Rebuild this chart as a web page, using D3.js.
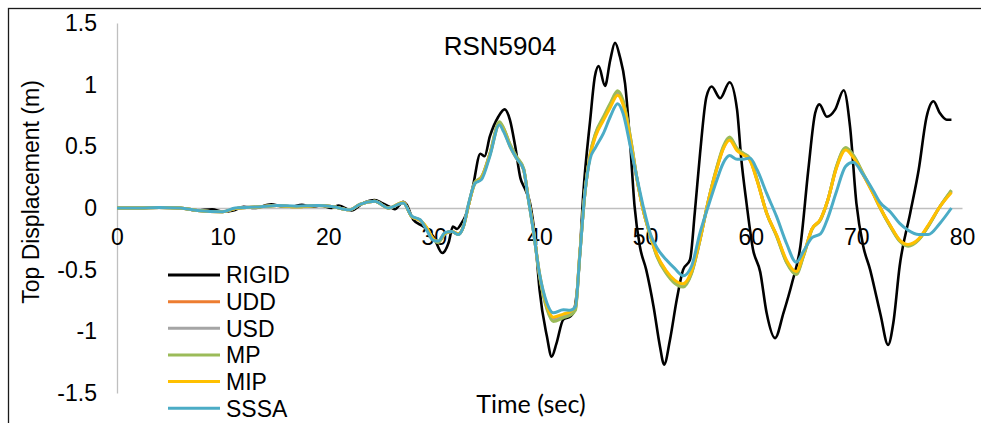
<!DOCTYPE html>
<html>
<head>
<meta charset="utf-8">
<script src="https://cdn.jsdelivr.net/npm/d3@7"></script>
<style>
    body { margin: 0; background: #fff; }
    svg text { font-family: "Liberation Sans", Arial, sans-serif; fill: #000; }
</style>
</head>
<body>
<svg id="chart" width="981" height="423"></svg>
<script>
// Time axis for the RIGID trace (sec)
const timeRigid = [0, 2, 4, 6, 7.6, 9, 10, 11, 12, 13, 14.6, 15.5, 16.5, 17.5, 18.4, 19.3, 20.3, 21, 22.2, 23.3,
    24.4, 25.1, 25.8, 26.3, 27.1, 27.4, 28.05, 29.0, 29.95, 30.8, 31.4, 31.8, 32.2, 32.5, 33.1, 33.7, 34.4, 34.8, 35.3, 36.1,
    36.7, 37.2, 37.7, 38.2, 38.6, 39.1, 39.6, 40.0, 40.7, 41.15, 41.6, 42.25, 42.9, 43.2, 43.7, 44.15, 44.8, 45.25, 45.6, 46.2,
    46.7, 47.15, 47.6, 48.1, 48.6, 49.0, 49.5, 50.1, 50.8, 51.4, 51.8, 52.35, 53.0, 53.6, 54.25, 54.7, 55.2, 55.8, 56.3, 57.1,
    58.0, 58.7, 59.1, 59.6, 60.2, 60.9, 61.5, 62.3, 63.1, 63.9, 64.7, 65.45, 66.1, 66.5, 67.2, 68.0, 68.8, 69.4, 70.0, 70.65,
    71.3, 71.9, 72.3, 73.0, 73.5, 74.1, 75.1, 75.9, 76.65, 77.3, 77.9, 78.55, 79.0];

const rigid = [0, 0, 0.005, 0, -0.02, -0.01, -0.03, -0.02, 0.01, 0, 0.03, 0.015, 0.01, 0.025, 0.01, 0.02, 0, 0.02, -0.02, 0.04,
    0.065, 0.04, 0.01, -0.01, 0.05, 0.03, -0.095, -0.15, -0.23, -0.365, -0.28, -0.15, -0.17, -0.14, -0.04, 0.175, 0.44, 0.42, 0.58, 0.74,
    0.80, 0.715, 0.50, 0.24, 0.16, 0.04, -0.26, -0.66, -1.04, -1.205, -1.10, -0.905, -0.88, -0.85, -0.53, 0.12, 0.715, 1.07, 1.15, 0.99,
    1.2, 1.34, 1.23, 1.01, 0.50, 0.015, -0.31, -0.50, -0.80, -1.12, -1.27, -1.07, -0.74, -0.50, -0.42, -0.04, 0.44, 0.90, 0.985, 0.89,
    1.02, 0.80, 0.40, 0.04, -0.33, -0.52, -0.85, -1.055, -0.85, -0.61, -0.31, 0.31, 0.77, 0.84, 0.74, 0.80, 0.955, 0.66, 0.04, -0.31,
    -0.50, -0.72, -0.87, -1.11, -0.93, -0.47, -0.04, 0.31, 0.74, 0.865, 0.77, 0.715, 0.715];

// Time axis shared by the model traces (sec)
const timeModels = [0, 2, 4, 6, 7.6, 10, 11.2, 13.6, 15.1, 17, 19, 20.5, 22, 23, 24.4, 25.7, 27.1, 27.9, 28.7, 29.3,
    29.9, 30.4, 31.05, 31.7, 32.3, 32.8, 33.3, 33.9, 34.5, 35.3, 36.2, 36.6, 37.2, 37.8, 38.5, 38.9, 39.4, 40.0, 40.7, 41.3,
    42.25, 42.9, 43.4, 43.8, 44.3, 44.8, 45.3, 46.05, 46.7, 47.4, 47.9, 48.6, 49.2, 49.8, 50.5, 51.1, 52.0, 52.8, 53.6, 54.4,
    55.2, 56.0, 56.8, 57.4, 58.0, 58.7, 59.3, 59.9, 60.6, 61.5, 62.45, 63.4, 64.3, 65.0, 65.8, 66.6, 67.3, 68.1, 69.0, 69.7,
    70.65, 71.6, 72.2, 73.2, 74.1, 74.9, 75.9, 76.8, 77.9, 79.0];

const udd = [0, 0, 0.005, 0, -0.02, -0.03, -0.005, 0.01, 0.02, 0.01, 0.02, 0.01, -0.015, 0.03, 0.055, 0, 0.045, -0.07, -0.10, -0.16,
    -0.245, -0.275, -0.205, -0.19, -0.21, -0.15, 0.03, 0.205, 0.245, 0.435, 0.685, 0.64, 0.51, 0.41, 0.31, 0.10, -0.165, -0.54, -0.80, -0.90,
    -0.87, -0.85, -0.81, -0.39, 0.12, 0.43, 0.59, 0.72, 0.83, 0.93, 0.855, 0.565, 0.25, -0.01, -0.225, -0.38, -0.515, -0.595, -0.625, -0.52,
    -0.255, 0.065, 0.325, 0.485, 0.56, 0.475, 0.435, 0.395, 0.225, -0.04, -0.225, -0.435, -0.525, -0.38, -0.17, -0.095, 0.065, 0.325, 0.48, 0.42,
    0.27, 0.115, 0.01, -0.145, -0.265, -0.30, -0.255, -0.145, 0.01, 0.135];

const usd = [0, 0, 0.005, 0, -0.02, -0.03, -0.005, 0.01, 0.02, 0.01, 0.02, 0.01, -0.015, 0.03, 0.055, 0, 0.045, -0.07, -0.10, -0.16,
    -0.25, -0.275, -0.21, -0.19, -0.215, -0.15, 0.03, 0.21, 0.25, 0.44, 0.69, 0.645, 0.515, 0.415, 0.315, 0.10, -0.17, -0.545, -0.81, -0.91,
    -0.88, -0.86, -0.82, -0.40, 0.12, 0.435, 0.60, 0.73, 0.84, 0.94, 0.865, 0.575, 0.25, -0.01, -0.225, -0.385, -0.525, -0.60, -0.63, -0.525,
    -0.255, 0.065, 0.33, 0.49, 0.565, 0.48, 0.44, 0.40, 0.23, -0.04, -0.225, -0.44, -0.53, -0.385, -0.17, -0.095, 0.065, 0.33, 0.485, 0.425,
    0.275, 0.12, 0.01, -0.145, -0.265, -0.30, -0.255, -0.145, 0.01, 0.14];

const mp = [0, 0, 0.005, 0, -0.02, -0.03, -0.005, 0.01, 0.02, 0.01, 0.02, 0.01, -0.015, 0.03, 0.055, 0, 0.045, -0.07, -0.10, -0.16,
    -0.25, -0.28, -0.21, -0.19, -0.215, -0.15, 0.03, 0.21, 0.25, 0.44, 0.70, 0.65, 0.52, 0.42, 0.32, 0.10, -0.17, -0.55, -0.82, -0.92,
    -0.89, -0.87, -0.83, -0.40, 0.12, 0.44, 0.605, 0.74, 0.85, 0.95, 0.875, 0.58, 0.255, -0.01, -0.23, -0.39, -0.53, -0.61, -0.64, -0.53,
    -0.26, 0.065, 0.335, 0.50, 0.575, 0.485, 0.445, 0.405, 0.23, -0.04, -0.23, -0.445, -0.54, -0.39, -0.175, -0.095, 0.065, 0.335, 0.49, 0.43,
    0.28, 0.12, 0.01, -0.15, -0.27, -0.31, -0.26, -0.15, 0.01, 0.145];

const mip = [0, 0, 0.005, 0, -0.02, -0.03, -0.005, 0.01, 0.02, 0.01, 0.02, 0.01, -0.015, 0.03, 0.055, 0, 0.045, -0.07, -0.10, -0.155,
    -0.245, -0.27, -0.205, -0.19, -0.21, -0.15, 0.03, 0.20, 0.24, 0.43, 0.675, 0.63, 0.50, 0.405, 0.31, 0.10, -0.165, -0.53, -0.79, -0.885,
    -0.86, -0.84, -0.80, -0.385, 0.12, 0.425, 0.58, 0.71, 0.815, 0.915, 0.84, 0.555, 0.245, -0.01, -0.22, -0.375, -0.51, -0.585, -0.615, -0.51,
    -0.25, 0.06, 0.32, 0.48, 0.55, 0.465, 0.43, 0.39, 0.22, -0.04, -0.22, -0.425, -0.515, -0.375, -0.17, -0.09, 0.065, 0.32, 0.47, 0.41,
    0.27, 0.115, 0.01, -0.14, -0.26, -0.295, -0.25, -0.14, 0.01, 0.125];

const sssa = [0, 0, 0.005, 0, -0.02, -0.03, 0, 0.01, 0.02, 0.015, 0.02, 0.01, -0.015, 0.03, 0.055, 0, 0.04, -0.065, -0.095, -0.175,
    -0.26, -0.27, -0.20, -0.19, -0.215, -0.15, 0.04, 0.20, 0.23, 0.42, 0.675, 0.62, 0.50, 0.405, 0.31, 0.095, -0.175, -0.53, -0.77, -0.85,
    -0.825, -0.83, -0.80, -0.40, 0.12, 0.40, 0.49, 0.605, 0.74, 0.845, 0.77, 0.50, 0.255, 0.02, -0.21, -0.32, -0.42, -0.49, -0.55, -0.47,
    -0.20, 0.02, 0.23, 0.365, 0.425, 0.395, 0.395, 0.405, 0.31, 0.12, -0.07, -0.29, -0.44, -0.35, -0.24, -0.21, -0.08, 0.13, 0.34, 0.37,
    0.27, 0.14, 0.05, -0.03, -0.125, -0.18, -0.215, -0.215, -0.125, 0];

// Legend names, colours and tick labels
const seriesNames = ['RIGID', 'UDD', 'USD', 'MP', 'MIP', 'SSSA'];
const seriesColors = ['#000000', '#ED7D31', '#A5A5A5', '#9BBB59', '#FFC000', '#4BACC6'];
const xTicks = [0, 10, 20, 30, 40, 50, 60, 70, 80];
const yTicks = [-1.5, -1, -0.5, 0, 0.5, 1, 1.5];

const svg = d3.select('#chart');

// Outer chart frame (cut off on the right and bottom like the original)
svg.append('rect')
    .attr('x', 8.5).attr('y', 8.5)
    .attr('width', 1000).attr('height', 440)
    .attr('fill', 'none')
    .attr('stroke', '#1a1a1a')
    .attr('stroke-width', 1.3);

const x = d3.scaleLinear().domain([0, 80]).range([117, 962]);
const y = d3.scaleLinear().domain([-1.5, 1.5]).range([393, 23]);

// Y axis (vertical gray line + labels), plain hyphen for negatives
const yAxis = svg.append('g')
    .attr('transform', `translate(${x(0)},0)`)
    .call(d3.axisLeft(y).tickValues(yTicks).tickSize(0).tickPadding(20)
        .tickFormat(d => String(d)));
yAxis.select('.domain').attr('stroke', '#BFBFBF').attr('stroke-width', 1.3);
yAxis.selectAll('text').style('font-size', '23px').attr('fill', '#000');

// X axis sits on the zero line
const xAxis = svg.append('g')
    .attr('transform', `translate(0,${y(0)})`)
    .call(d3.axisBottom(x).tickValues(xTicks).tickSize(0).tickPadding(21)
        .tickFormat(d => String(d)));
xAxis.select('.domain').attr('stroke', '#BFBFBF').attr('stroke-width', 1.6);
xAxis.selectAll('text').style('font-size', '23px').attr('fill', '#000');

// Build one data array per series
const seriesData = [
    timeRigid.map((t, i) => ({ t: t, v: rigid[i] })),
    timeModels.map((t, i) => ({ t: t, v: udd[i] })),
    timeModels.map((t, i) => ({ t: t, v: usd[i] })),
    timeModels.map((t, i) => ({ t: t, v: mp[i] })),
    timeModels.map((t, i) => ({ t: t, v: mip[i] })),
    timeModels.map((t, i) => ({ t: t, v: sssa[i] }))
];

const line = d3.line()
    .x(d => x(d.t))
    .y(d => y(d.v))
    .curve(d3.curveMonotoneX);

svg.append('g').selectAll('path')
    .data(seriesData)
    .enter()
    .append('path')
    .attr('d', line)
    .attr('fill', 'none')
    .attr('stroke', (d, i) => seriesColors[i])
    .attr('stroke-width', (d, i) => i === 0 ? 2.6 : 3)
    .attr('stroke-linejoin', 'round');

// Title
svg.append('text')
    .attr('x', 500).attr('y', 55)
    .attr('text-anchor', 'middle')
    .style('font-size', '26px')
    .text('RSN5904');

// Axis titles
svg.append('text')
    .attr('transform', 'translate(31,192) rotate(-90)')
    .attr('text-anchor', 'middle')
    .attr('dominant-baseline', 'central')
    .style('font-size', '23px')
    .text('Top Displacement (m)');

svg.append('text')
    .attr('x', 531).attr('y', 413)
    .attr('text-anchor', 'middle')
    .style('font-family', 'Lato, "Open Sans", sans-serif')
    .style('font-size', '25px')
    .text('Time (sec)');

// Legend
const legend = svg.append('g').selectAll('g')
    .data(seriesNames)
    .enter()
    .append('g')
    .attr('transform', (d, i) => `translate(168,${275 + i * 26.65})`);

legend.append('line')
    .attr('x1', 0).attr('x2', 52)
    .attr('stroke', (d, i) => seriesColors[i])
    .attr('stroke-width', 3);

legend.append('text')
    .attr('x', 58)
    .attr('dy', '0.36em')
    .style('font-size', '23px')
    .text(d => d);
</script>
</body>
</html>
